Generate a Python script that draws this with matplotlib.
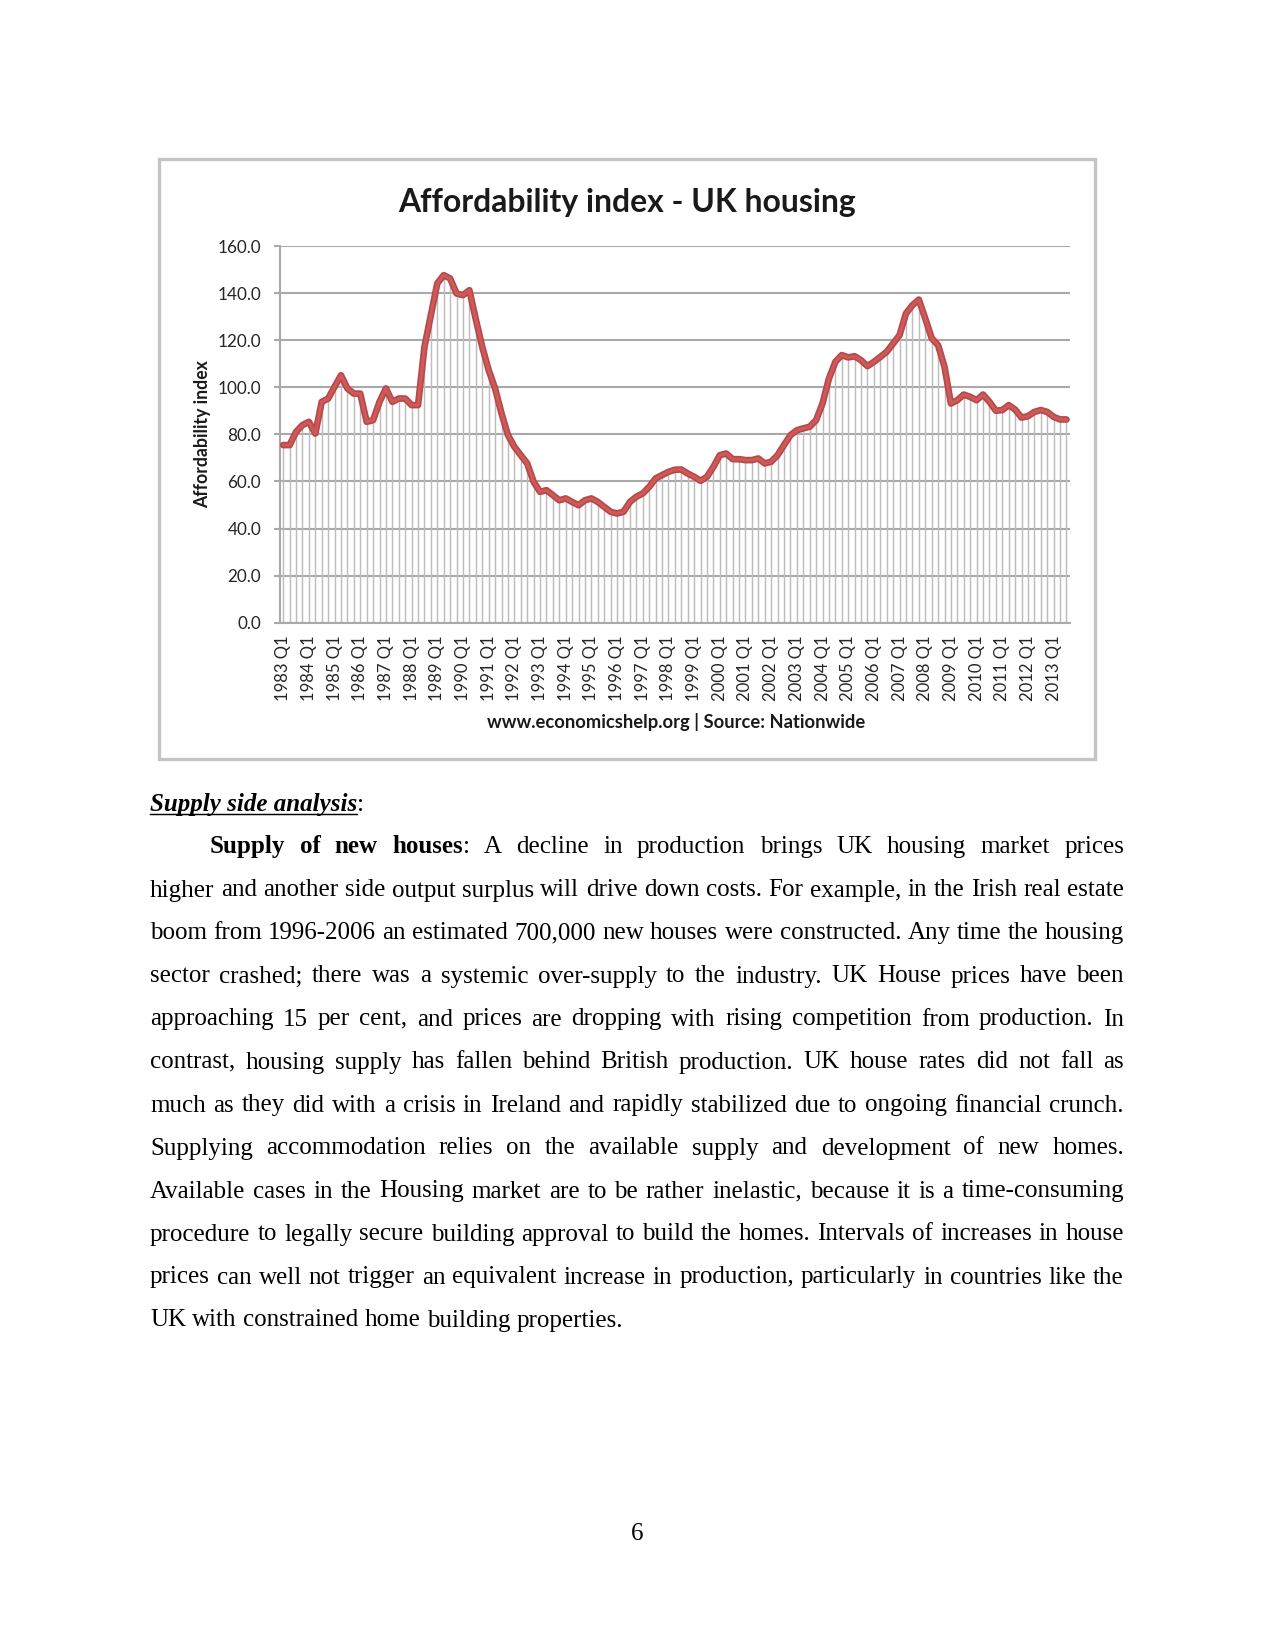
import matplotlib
matplotlib.use("Agg")
import matplotlib.pyplot as plt
from matplotlib.font_manager import FontProperties
from matplotlib.lines import Line2D
from matplotlib.patches import Rectangle
import numpy as np

# ---------------- data ----------------
chart_title = "Affordability index - UK housing"
y_label = "Affordability index"
source_note = "www.economicshelp.org | Source: Nationwide"
label_years = list(range(1983, 2014))
tick_labels = [f"{y} Q1" for y in label_years]
y_ticks = [0, 20, 40, 60, 80, 100, 120, 140, 160]

# quarterly affordability index, 1983 Q1 .. 2013 Q3
affordability = [
    75.5, 75.5, 81.1, 84.0, 85.4, 80.4, 93.9, 95.3, 100.3, 105.2,
    99.6, 97.4, 97.4, 85.4, 86.1, 93.9, 99.6, 93.9, 95.3, 95.3,
    92.5, 92.5, 117.3, 130.8, 144.3, 147.8, 146.4, 140.0, 139.3, 141.4,
    129.0, 117.3, 107.4, 99.6, 89.0, 79.8, 74.8, 71.2, 67.7, 59.9,
    55.6, 56.3, 54.2, 52.0, 52.8, 51.3, 49.9, 52.0, 52.8, 51.3,
    49.2, 47.1, 46.4, 47.1, 51.3, 53.5, 54.9, 57.7, 61.3, 62.7,
    64.1, 65.0, 65.1, 63.4, 62.0, 60.3, 62.0, 66.2, 71.2, 71.9,
    69.5, 69.5, 69.1, 69.1, 69.8, 67.7, 68.4, 71.2, 75.5, 79.7,
    81.8, 82.6, 83.3, 86.1, 93.2, 103.8, 110.9, 113.8, 112.8, 113.3,
    111.6, 109.1, 110.9, 113.0, 115.2, 118.7, 122.3, 131.5, 135.0, 137.4,
    129.4, 121.0, 118.0, 108.8, 93.2, 94.6, 97.0, 96.0, 94.6, 97.0,
    93.9, 90.1, 90.4, 92.5, 90.6, 87.2, 87.8, 89.6, 90.4, 89.6,
    87.5, 86.4, 86.4,
]

heading = "Supply side analysis"
bold_lead = "Supply of new houses"
para_lines = [
    "Supply of new houses: A decline in production brings UK housing market prices",
    "higher and another side output surplus will drive down costs. For example, in the Irish real estate",
    "boom from 1996-2006 an estimated 700,000 new houses were constructed. Any time the housing",
    "sector crashed; there was a systemic over-supply to the industry. UK House prices have been",
    "approaching 15 per cent, and prices are dropping with rising competition from production. In",
    "contrast, housing supply has fallen behind British production. UK house rates did not fall as",
    "much as they did with a crisis in Ireland and rapidly stabilized due to ongoing financial crunch.",
    "Supplying accommodation relies on the available supply and development of new homes.",
    "Available cases in the Housing market are to be rather inelastic, because it is a time-consuming",
    "procedure to legally secure building approval to build the homes. Intervals of increases in house",
    "prices can well not trigger an equivalent increase in production, particularly in countries like the",
    "UK with constrained home building properties.",
]
page_number = "6"

# ---------------- figure ----------------
W, H, DPI = 1275, 1650, 150
fig = plt.figure(figsize=(W / DPI, H / DPI), dpi=DPI)
fig.patch.set_facecolor("white")
renderer = fig.canvas.get_renderer()

CH = ["Lato", "DejaVu Sans"]
SERIF = ["Liberation Serif", "DejaVu Serif"]


def measure(text, family, weight="normal", style="normal", size=10):
    fp = FontProperties(family=family, weight=weight, style=style, size=size)
    w, h, d = renderer.get_text_width_height_descent(text, fp, ismath=False)
    return w


def fit(text, family, weight, target_px, base=10.0):
    return base * target_px / measure(text, family, weight, size=base)


def fx(px):
    return px / W


def fy(py):
    return 1 - py / H


# chart frame
fig.patches.append(Rectangle((fx(159), fy(759)), fx(1095) - fx(159), fy(159) - fy(759),
                             transform=fig.transFigure, fill=False,
                             edgecolor="#c4c4c4", linewidth=1.6, zorder=0))

# axes
ax_left, ax_right, ax_top, ax_bot = 280, 1069.7, 246.5, 622.5
ax = fig.add_axes([fx(ax_left), fy(ax_bot), fx(ax_right - ax_left), (ax_bot - ax_top) / H])
x = np.arange(len(affordability))
ax.set_xlim(-0.5, len(affordability) - 0.5)
ax.set_ylim(0, 160)

ax.set_yticks(y_ticks)
tick_size = fit("160.0", CH, "normal", 44)
ax.set_yticklabels([f"{v:.1f}" for v in y_ticks], fontsize=tick_size, family=CH, color="#262626")
ax.yaxis.grid(True, color="#a9a9a9", linewidth=1.0, zorder=0)
ax.set_axisbelow(True)
ax.tick_params(axis="y", length=3.0, width=1.0, color="#a9a9a9", pad=6)

label_pos = [i * 4 for i in range(len(tick_labels))]
ax.set_xticks(label_pos)
xl_size = fit("1983 Q1", CH, "normal", 66)
ax.set_xticklabels(tick_labels, rotation=90, fontsize=xl_size, family=CH, color="#262626")
ax.tick_params(axis="x", length=0, pad=6)

for s in ["top", "right"]:
    ax.spines[s].set_visible(False)
ax.spines["left"].set_color("#a9a9a9")
ax.spines["left"].set_linewidth(1.0)
ax.spines["bottom"].set_color("#a9a9a9")
ax.spines["bottom"].set_linewidth(1.0)

# drop lines
ax.vlines(x, 0, affordability, color="#bdbdbd", linewidth=0.7, zorder=1)
# main line
ax.plot(x, affordability, color="#b8474a", linewidth=3.2, solid_joinstyle="round",
        solid_capstyle="round", zorder=3)
ax.plot(x, affordability, color="#cc5a58", linewidth=1.6, solid_joinstyle="round",
        solid_capstyle="round", zorder=4)

# chart texts
title_size = fit(chart_title, CH, "bold", 460)
fig.text(fx(626.5), fy(212), chart_title, ha="center", va="baseline",
         fontsize=title_size, fontweight="bold", family=CH, color="#1a1a1a")
yl_size = fit(y_label, CH, "bold", 148)
fig.text(fx(203), fy(434.5), y_label, ha="center", va="center", rotation=90,
         fontsize=yl_size, fontweight="bold", family=CH, color="#1a1a1a")
src_size = fit(source_note, CH, "bold", 379)
fig.text(fx(676), fy(728), source_note, ha="center", va="baseline",
         fontsize=src_size, fontweight="bold", family=CH, color="#1a1a1a")

# ---------------- document text ----------------
FS = 12
left_px, right_px = 150, 1124


def put(xpx, ypx, text, weight="normal", style="normal"):
    fig.text(fx(xpx), fy(ypx), text, ha="left", va="baseline", fontsize=FS,
             family=SERIF, fontweight=weight, fontstyle=style, color="black")
    return measure(text, SERIF, weight, style, FS)


# heading
hb = 811
wh = put(left_px, hb, heading, weight="bold", style="italic")
fig.lines.append(Line2D([fx(left_px), fx(left_px + wh)], [fy(hb + 3), fy(hb + 3)],
                        transform=fig.transFigure, color="black", linewidth=0.7))
put(left_px + wh, hb, ":")


def line_words(line, bold_upto):
    words = []
    pos = 0
    for w in line.split(" "):
        start = line.index(w, pos)
        pos = start + len(w)
        segs = []
        nb = max(0, min(len(w), bold_upto - start))
        if nb > 0:
            segs.append((w[:nb], "bold"))
        if nb < len(w):
            segs.append((w[nb:], "normal"))
        words.append(segs)
    return words


base0, step = 853.5, 43.0
for k, line in enumerate(para_lines):
    yb = base0 + step * k
    xl = 210 if k == 0 else left_px
    words = line_words(line, len(bold_lead) if k == 0 else 0)
    widths = [sum(measure(t, SERIF, wt, size=FS) for t, wt in wd) for wd in words]
    justify = k < len(para_lines) - 1
    if justify:
        gap = (right_px - xl - sum(widths)) / (len(words) - 1)
    else:
        gap = measure(" ", SERIF, size=FS)
    xc = xl
    for wd, wdt in zip(words, widths):
        xx = xc
        for t, wt in wd:
            xx += put(xx, yb, t, weight=wt)
        xc += wdt + gap

fig.text(fx(637), fy(1540), page_number, ha="center", va="baseline", fontsize=FS,
         family=SERIF, color="black")

fig.savefig("out.png", dpi=DPI, facecolor="white")
